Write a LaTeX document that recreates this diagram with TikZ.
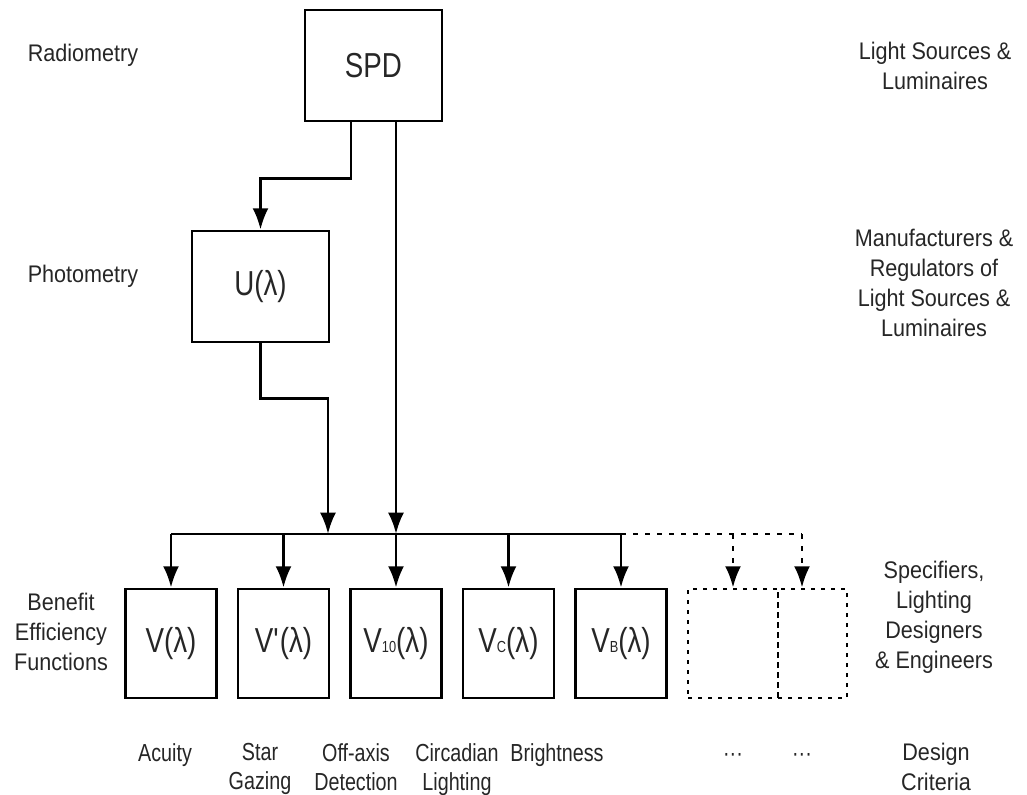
\documentclass[tikz,border=0pt]{standalone}
\usepackage{fontspec}
\setmainfont{Liberation Sans}[FakeStretch=0.9]
\newfontfamily\narrowsans{Liberation Sans}[FakeStretch=0.8]
\usetikzlibrary{arrows.meta}
\newcommand{\lowidx}[1]{{\fontsize{12}{12}\selectfont #1}}

\begin{document}
\begin{tikzpicture}[x=0.75pt,y=-0.75pt,line width=2.1pt,
  bigbox/.style={draw,minimum width=102.75pt,minimum height=83.25pt,inner sep=0pt,
    font=\narrowsans\fontsize{26}{30}\selectfont,text=black!85},
  funcbox/.style={draw,minimum width=68.25pt,minimum height=81.75pt,inner sep=0pt,
    font=\narrowsans\fontsize{26}{30}\selectfont,text=black!85},
  ghostbox/.style={draw,dash pattern=on 3pt off 4.5pt,minimum height=81.75pt,inner sep=0pt},
  flow/.style={-{Latex[length=16pt,width=12pt]}},
  ghostflow/.style={flow,dash pattern=on 3.75pt off 5.25pt},
  sidetext/.style={align=center,font=\fontsize{18}{22.5}\selectfont,text=black!85},
  criterion/.style={anchor=north,inner sep=0pt,align=center,
    font=\narrowsans\fontsize{18.5}{22}\selectfont,text=black!85}]
\useasboundingbox (0,0) rectangle (1027,795);
\node[bigbox] (spd) at (373.5,65.5) {SPD};
\node[bigbox] (ulam) at (260.5,286.5) {U(λ)};
\foreach \name/\xpos/\func in {v/171/V(λ), vprime/283.5/V\textquotesingle(λ),
    vten/396/V\lowidx{10}(λ), vc/508.5/V\lowidx{C}(λ), vb/621/V\lowidx{B}(λ)} {
  \node[funcbox] (\name) at (\xpos,643.5) {\func};
}
\node[ghostbox,minimum width=67.5pt] (ghostA) at (733,643.5) {};
\node[ghostbox,minimum width=51.75pt] (ghostB) at (812.5,643.5) {};
\coordinate (bus) at (0,534);
\coordinate (busend) at (802,534);
\coordinate (ujoin) at (328,534);
\coordinate (spdtap) at ([xshift=16.875pt]spd.south);
\draw[flow] ([xshift=-16.875pt]spd.south) -- ++(0,56) -| (ulam.north);
\draw[flow] (spdtap) -- (spdtap |- bus);
\draw[flow] (ulam.south) -- ++(0,55) -| (ujoin);
\draw (v.north |- bus) -- (vb.north |- bus);
\draw[dash pattern=on 3.75pt off 5.25pt] (vb.north |- bus) -- (busend);
\foreach \name in {v,vprime,vten,vc,vb} {
  \draw[flow] (\name.north |- bus) -- (\name.north);
}
\draw[ghostflow] (ghostA.north |- bus) -- (ghostA.north);
\draw[ghostflow] (busend) -- (busend |- ghostB.north);
\node[sidetext] (radio) at (83,55) {Radiometry};
\node[sidetext] (photo) at (83,276) {Photometry};
\node[sidetext] (benefit) at (61,632) {Benefit\\Efficiency\\Functions};
\node[sidetext] (sources) at (935,66) {Light Sources \&\\Luminaires};
\node[sidetext] (makers) at (934,283) {Manufacturers \&\\Regulators of\\Light Sources \&\\Luminaires};
\node[sidetext] (specifiers) at (934,617) {Specifiers,\\Lighting\\Designers\\\& Engineers};
\foreach \name/\xpos/\crit in {acuity/165/Acuity, star/260/Star\\Gazing,
    offaxis/356/Off-axis\\Detection, circadian/457/Circadian\\Lighting,
    bright/557/Brightness, moreA/733/\vphantom{Ab}···, moreB/802/\vphantom{Ab}···} {
  \node[criterion] (\name) at (\xpos,742) {\crit};
}
\node[sidetext,anchor=north,inner sep=0pt] (design) at (936,742) {Design\\Criteria};
\end{tikzpicture}
\end{document}
